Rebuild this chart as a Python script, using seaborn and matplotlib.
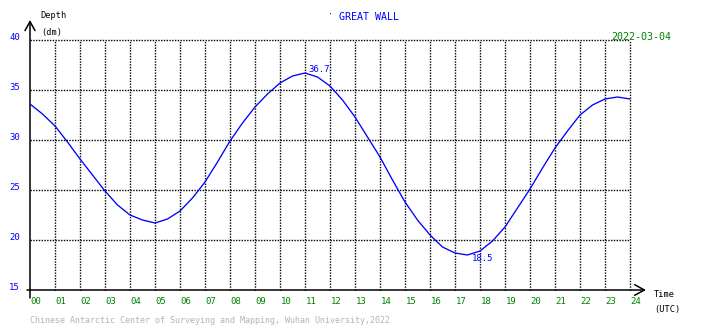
import matplotlib
matplotlib.use("Agg")
import matplotlib.pyplot as plt
import seaborn as sns
import pandas as pd

sns.set_style("white")
plt.rcParams["font.family"] = ["DejaVu Sans Mono"]

# Tide depth (dm) at Great Wall station, half-hourly, 2022-03-04 UTC
hours = [0, 0.5, 1, 1.5, 2, 2.5, 3, 3.5, 4, 4.5, 5, 5.5, 6, 6.5, 7, 7.5, 8, 8.5,
         9, 9.5, 10, 10.5, 11, 11.5, 12, 12.5, 13, 13.5, 14, 14.5, 15, 15.5, 16,
         16.5, 17, 17.5, 18, 18.5, 19, 19.5, 20, 20.5, 21, 21.5, 22, 22.5, 23,
         23.5, 24]
depth = [33.6, 32.6, 31.4, 29.8, 28.1, 26.5, 24.9, 23.5, 22.5, 22.0, 21.7, 22.1,
         22.9, 24.2, 25.8, 27.8, 29.9, 31.7, 33.3, 34.6, 35.7, 36.4, 36.7, 36.3,
         35.4, 34.0, 32.3, 30.3, 28.3, 26.0, 23.8, 22.0, 20.5, 19.3, 18.7, 18.5,
         18.9, 19.9, 21.3, 23.2, 25.1, 27.2, 29.2, 30.9, 32.5, 33.5, 34.1, 34.3,
         34.1]
x_labels = ["%02d" % h for h in range(25)]
y_ticks = [15, 20, 25, 30, 35, 40]

title = "GREAT WALL"
date_str = "2022-03-04"
footer = "Chinese Antarctic Center of Surveying and Mapping, Wuhan University,2022"

W, H = 710, 328
fig = plt.figure(figsize=(W / 100, H / 100), dpi=100)
ax = fig.add_axes([0, 0, 1, 1])
ax.set_axis_off()

# 25 px per hour starting at x=30; 10 px per dm with 40 dm at y=40
x0, px_h = 30, 25
y_top, px_dm = 40, 10
ax.set_xlim(-x0 / px_h, (W - x0) / px_h)
ax.set_ylim(40 - (H - y_top) / px_dm, 40 + y_top / px_dm)

def fx(px):
    return px / W

def fy(py):
    return 1 - py / H

dot = (0, (1, 1))
grid_kw = dict(color="black", lw=1.0, linestyle=dot, zorder=1)
for h in range(1, 25):
    ax.plot([h, h], [15, 40], **grid_kw)
for v in y_ticks[1:]:
    ax.plot([0, 24], [v, v], **grid_kw)

# axes with arrow heads
ax.annotate("", xy=(0, 42.0), xytext=(0, 14.2),
            arrowprops=dict(arrowstyle="->,head_length=0.65,head_width=0.36",
                            lw=1.1, color="black", shrinkA=0, shrinkB=0))
ax.annotate("", xy=(24.64, 15), xytext=(-0.12, 15),
            arrowprops=dict(arrowstyle="->,head_length=0.7,head_width=0.38",
                            lw=1.1, color="black", shrinkA=0, shrinkB=0))

df = pd.DataFrame({"hour": hours, "depth": depth})
sns.lineplot(data=df, x="hour", y="depth", color="#0000ff", lw=0.95, ax=ax,
             zorder=3)

# extremes
i_max = depth.index(max(depth))
i_min = depth.index(min(depth))
ax.text(hours[i_max] + 0.12, depth[i_max] + 0.05, "%.1f" % depth[i_max],
        color="#0000ff", fontsize=6.5, ha="left", va="baseline")
ax.text(hours[i_min] + 0.18, depth[i_min] - 0.6, "%.1f" % depth[i_min],
        color="#0000ff", fontsize=6.5, ha="left", va="baseline")

for v in y_ticks:
    ax.text(-0.4, v + 0.2, str(v), color="#0000ff", fontsize=6.5,
            ha="right", va="center")
for h, lab in enumerate(x_labels):
    ax.text(h + 0.02, 13.8, lab, color="#008000", fontsize=6.5,
            ha="left", va="center")

fig.text(fx(40), fy(16), "Depth", fontsize=6.2, ha="left", va="center",
         color="black")
fig.text(fx(41), fy(33), "(dm)", fontsize=6.2, ha="left", va="center",
         color="black")
fig.text(fx(654), fy(294.5), "Time", fontsize=6.2, ha="left", va="center",
         color="black")
fig.text(fx(654), fy(309.5), "(UTC)", fontsize=6.2, ha="left", va="center",
         color="black")
fig.text(fx(330), fy(15), "·", fontsize=6, ha="center", va="center",
         color="#0000ff")
fig.text(fx(339), fy(16.5), title, fontsize=7.2, ha="left", va="center",
         color="#0000ff")
fig.text(fx(611), fy(36.5), date_str, fontsize=7.2, ha="left", va="center",
         color="#008000")
fig.text(fx(30), fy(320.5), footer, fontsize=6.0, ha="left", va="center",
         color="#b4b4b4")

fig.savefig("out.png", dpi=100, facecolor="white")
